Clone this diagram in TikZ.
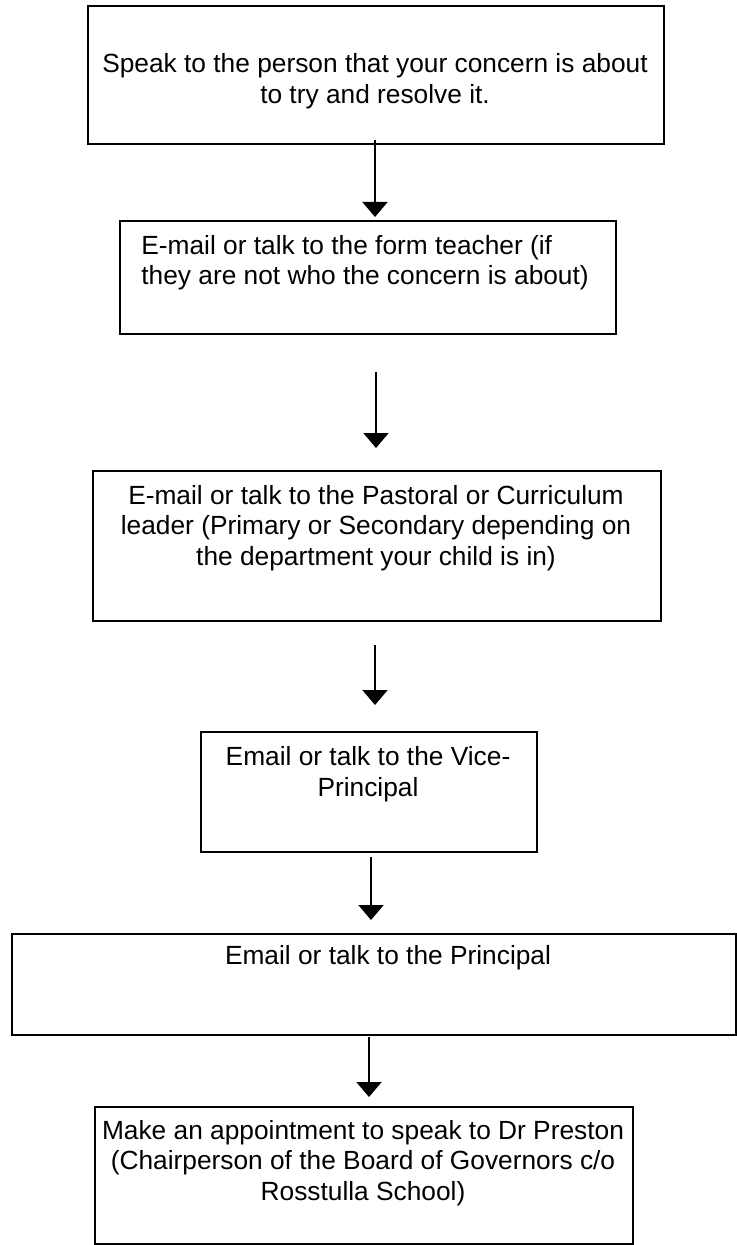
\documentclass[tikz,border=0pt]{standalone}
\usepackage{fontspec}
\setmainfont{Liberation Sans}
\usetikzlibrary{arrows.meta}

\begin{document}
\begin{tikzpicture}[x=0.5pt,y=-0.5pt,
    box/.style={draw,line width=1pt,inner sep=0pt,anchor=north west},
    txt/.style={inner sep=0pt,align=center,font=\fontsize{13.15}{15.25}\selectfont},
    arr/.style={line width=1pt,-{Triangle[width=12.5pt,length=7.5pt]}}]
  \useasboundingbox (0,0) rectangle (736,1245);
          \node[box,minimum width=288pt,minimum height=69pt] (b1) at (87,5) {};
          \node[box,minimum width=248pt,minimum height=56.5pt] (b2) at (119,220) {};
          \node[box,minimum width=284pt,minimum height=75pt] (b3) at (92,470) {};
          \node[box,minimum width=168pt,minimum height=60pt] (b4) at (200,731) {};
          \node[box,minimum width=362pt,minimum height=50.5pt] (b5) at (11,933) {};
          \node[box,minimum width=269pt,minimum height=68.5pt] (b6) at (94,1106) {};

          \node[txt] (t1) at (375,81) {Speak to the person that your concern is about\\to try and resolve it.};
          \node[txt,anchor=west,align=left] (t2) at (141,262.5) {E-mail or talk to the form teacher (if\\they are not who the concern is about)};
          \node[txt] (t3) at (376,528) {E-mail or talk to the Pastoral or Curriculum\\leader (Primary or Secondary depending on\\the department your child is in)};
          \node[txt] (t4) at (368,774) {Email or talk to the Vice-\\Principal};
          \node[txt] (t5) at (388,958) {Email or talk to the Principal};
          \node[txt] (t6) at (363,1163) {Make an appointment to speak to Dr Preston\\(Chairperson of the Board of Governors c/o\\Rosstulla School)};

   \foreach \f/\t/\x/\a/\b in {b1/b2/375/-2.5pt/1.5pt, b2/b3/376/18.5pt/11pt,
                               b3/b4/375/11.5pt/13pt, b4/b5/371/2pt/6.5pt, b5/b6/369/0.5pt/4.5pt}
             {
               \draw[arr,shorten <=\a,shorten >=\b] (\f.south -| \x,0) -- (\t.north -| \x,0);
             }
\end{tikzpicture}
\end{document}
